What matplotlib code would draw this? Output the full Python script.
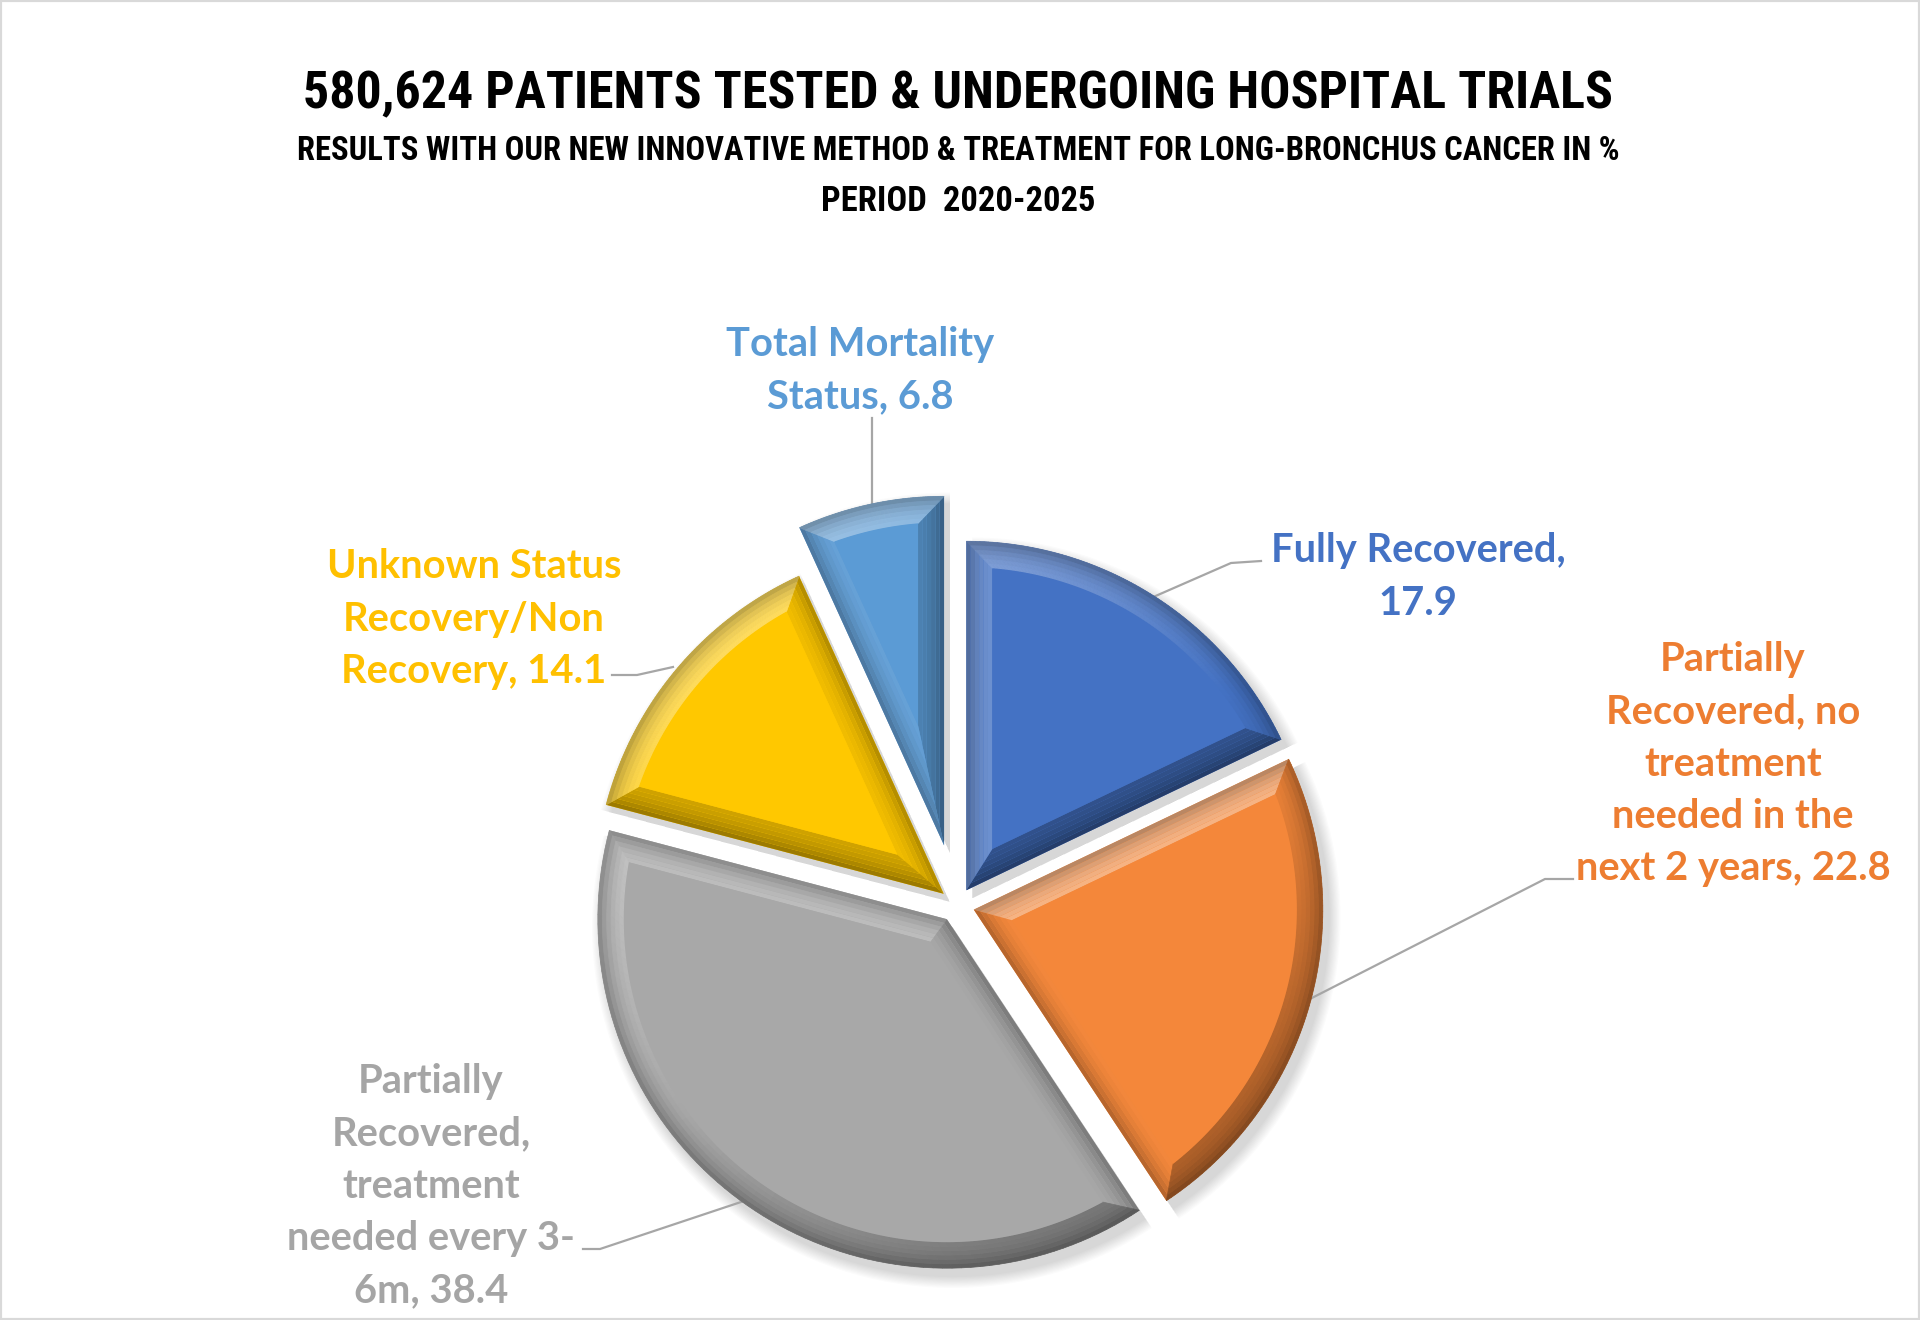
import numpy as np
import matplotlib
matplotlib.use("Agg")
import matplotlib.pyplot as plt
from matplotlib import font_manager as fm
from matplotlib.patches import Polygon, Rectangle, Wedge
import matplotlib.colors as mcolors

# ---------------- data ----------------
title_lines = ["580,624 PATIENTS TESTED & UNDERGOING HOSPITAL TRIALS",
               "RESULTS WITH OUR NEW INNOVATIVE METHOD & TREATMENT FOR LONG-BRONCHUS CANCER IN %",
               "PERIOD  2020-2025"]
categories = ["Fully Recovered",
              "Partially Recovered, no treatment needed in the next 2 years",
              "Partially Recovered, treatment needed every 3-6m",
              "Unknown Status Recovery/Non Recovery",
              "Total Mortality Status"]
values = [17.9, 22.8, 38.4, 14.1, 6.8]
label_templates = ["Fully Recovered,\n{v}",
                   "Partially\nRecovered, no\ntreatment\nneeded in the\nnext 2 years, {v}",
                   "Partially\nRecovered,\ntreatment\nneeded every 3-\n6m, {v}",
                   "Unknown Status\nRecovery/Non\nRecovery, {v}",
                   "Total Mortality\nStatus, {v}"]
colors = ["#4472C4", "#F4873A", "#A8A8A8", "#FFC800", "#5B9BD5"]
label_colors = ["#4472C4", "#ED7D31", "#A5A5A5", "#FFC000", "#5B9BD5"]
explode = [0.05, 0.05, 0.05, 0.05, 0.175]   # fraction of radius

# ---------------- layout (pixel space, y up) ----------------
W, H = 1920, 1320
def Y(yd):
    return H - yd

def find_condensed():
    cands = [("Roboto Condensed", "normal"), ("Liberation Sans Narrow", "normal"),
             ("Open Sans Condensed", "normal"), ("Noto Sans", "condensed"),
             ("DejaVu Sans", "condensed"), ("Roboto", "condensed")]
    for fam, st in cands:
        try:
            fp = fm.FontProperties(family=fam, stretch=st, weight="bold")
            path = fm.findfont(fp, fallback_to_default=False)
            low = path.lower()
            if ("condensed" in low or "narrow" in low or "cond" in low):
                return fm.FontProperties(fname=path)
        except Exception:
            pass
    return fm.FontProperties(family="DejaVu Sans", weight="bold")

def pick_font(cands):
    for c in cands:
        try:
            fm.findfont(fm.FontProperties(family=c), fallback_to_default=False)
            return c
        except Exception:
            pass
    return "DejaVu Sans"

title_fp = find_condensed()
label_font = pick_font(["Lato", "Open Sans", "DejaVu Sans"])

fig = plt.figure(figsize=(19.2, 13.2), dpi=100)
ax = fig.add_axes([0, 0, 1, 1])
renderer = fig.canvas.get_renderer()

center = (957, Y(905))
radius = 349
wedges, _ = ax.pie(values, colors=colors, startangle=90, counterclock=False,
                   explode=[e * radius for e in explode], radius=radius, center=center,
                   wedgeprops=dict(linewidth=0, zorder=3))
ax.set_xlim(0, W)
ax.set_ylim(0, H)
ax.set_aspect("equal")
ax.axis("off")

# ---- soft drop shadow + bevel built from each wedge's geometry ----
def mix(c, target, a):
    c = np.array(mcolors.to_rgb(c)); t = np.array(mcolors.to_rgb(target))
    return tuple(c + (t - c) * a)

light = np.deg2rad(125)
bevel = 26
for w, col in zip(wedges, colors):
    cx, cy = w.center
    r = w.r
    t1, t2 = w.theta1, w.theta2
    # shadow
    for k in range(10):
        sh = Wedge((cx + 6, cy - 8), r + 1 + k * 1.2, t1, t2, color="black",
                   alpha=0.016, lw=0, zorder=1)
        ax.add_patch(sh)
    a1, a2 = np.deg2rad(t1), np.deg2rad(t2)
    half = (a2 - a1) / 2
    bis = a1 + half
    s = bevel / np.sin(half) if half < np.pi / 2 else bevel
    apex_o = np.array([cx, cy])
    apex_i = apex_o + s * np.array([np.cos(bis), np.sin(bis)])
    ri = r - bevel
    d = np.arcsin(bevel / ri)
    n = 90
    th_o = np.linspace(a1, a2, n)
    th_i = np.linspace(a1 + d, a2 - d, n)
    P = np.c_[cx + r * np.cos(th_o), cy + r * np.sin(th_o)]
    Q = np.c_[cx + ri * np.cos(th_i), cy + ri * np.sin(th_i)]

    def shade(normal_angle, strength=0.38):
        f = np.cos(normal_angle - light)
        if f >= 0:
            return mix(col, "white", strength * f)
        return mix(col, "black", strength * 0.75 * (-f))

    steps = 6
    for j in range(steps):
        fa, fb = j / steps, (j + 1) / steps
        Pa = P + (Q - P) * fa
        Pb = P + (Q - P) * fb
        Aa = apex_o + (apex_i - apex_o) * fa
        Ab = apex_o + (apex_i - apex_o) * fb
        edge_dark = 0.25 * (1 - fa) ** 2
        def sh2(a):
            return mix(shade(a), "black", edge_dark)
        ax.add_patch(Polygon([Aa, Pa[0], Pb[0], Ab], closed=True,
                             fc=sh2(a1 - np.pi / 2), ec="none", zorder=4))
        ax.add_patch(Polygon([Aa, Pa[-1], Pb[-1], Ab], closed=True,
                             fc=sh2(a2 + np.pi / 2), ec="none", zorder=4))
        for k in range(n - 1):
            c = sh2((th_o[k] + th_o[k + 1]) / 2)
            ax.add_patch(Polygon([Pa[k], Pa[k + 1], Pb[k + 1], Pb[k]], closed=True,
                                 fc=c, ec=c, lw=0.5, zorder=4))
    ax.add_patch(Polygon(np.vstack([apex_i[None, :], Q]), closed=True,
                         fc=col, ec="none", zorder=5))

# ---------------- labels ----------------
lab_pos = [(1418, 577), (1733, 764), (431, 1186), (474, 619), (860, 371)]
leaders = [[(1261, 561), (1231, 563), (1151, 598)],
           [(1573, 879), (1545, 879), (1304, 1002)],
           [(583, 1249), (600, 1249), (747, 1200)],
           [(612, 675), (637, 675), (673, 667)],
           [(872, 418), (872, 508)]]

probe = ax.text(0, 0, "Fully Recovered,", fontsize=20, fontweight="bold",
                family=label_font)
wpx = probe.get_window_extent(renderer).width
lab_fs = 20 * 295 / wpx
probe.set_fontsize(lab_fs)
probe.set_linespacing(1.0)
h1 = probe.get_window_extent(renderer).height
probe.set_text("Fully Recovered,\nA")
h2 = probe.get_window_extent(renderer).height
probe.remove()
lab_ls = 52.7 / (h2 - h1) * 1.062

for tmpl, v, (x, yd), col in zip(label_templates, values, lab_pos, label_colors):
    ax.text(x, Y(yd), tmpl.format(v=v), ha="center", va="center",
            fontsize=lab_fs, fontweight="bold", family=label_font, color=col,
            linespacing=lab_ls, zorder=10)

for pts in leaders:
    xs = [p[0] for p in pts]
    ys = [Y(p[1]) for p in pts]
    ax.plot(xs, ys, color="#A6A6A6", lw=1.6, zorder=2)

# ---------------- titles ----------------
title_specs = [(title_lines[0], 108, 1308), (title_lines[1], 160, 1318), (title_lines[2], 211, 274)]
for txt, yb, tw in title_specs:
    t = ax.text(W / 2 - 2, Y(yb), txt, ha="center", va="baseline", fontsize=30,
                fontproperties=title_fp, color="black", zorder=10)
    t.set_fontweight("bold")
    t.set_fontsize(30)
    bw = t.get_window_extent(renderer).width
    t.set_fontsize(30 * tw / bw)

# frame
fig.patches.append(Rectangle((0, 0), 1, 1, transform=fig.transFigure, fill=False,
                             ec="#D9D9D9", lw=3))

fig.savefig("out.png", dpi=100, facecolor="white")
